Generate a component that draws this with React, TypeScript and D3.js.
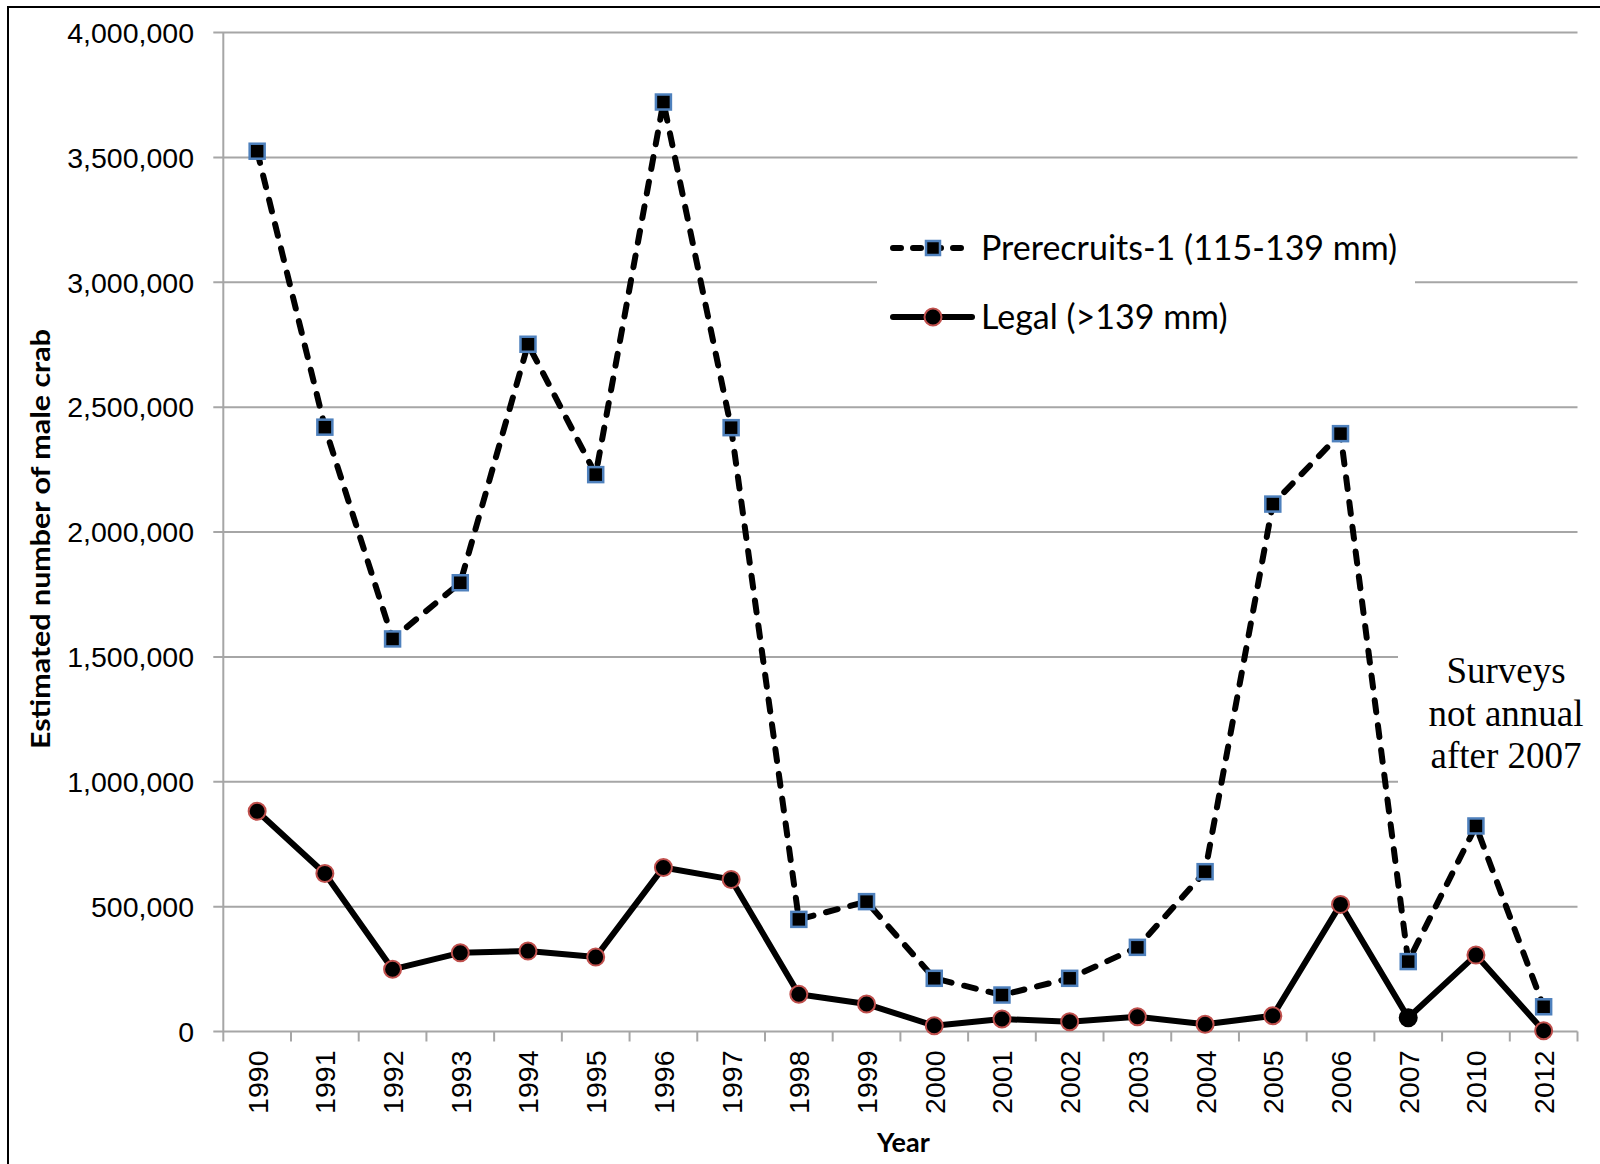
import React from "react";
import * as d3 from "d3";

const years = ["1990","1991","1992","1993","1994","1995","1996","1997","1998","1999","2000","2001","2002","2003","2004","2005","2006","2007","2010","2012"];
const prerecruits = [3525000,2420000,1572000,1797000,2752000,2230000,3722000,2418000,449000,520000,213000,146000,213000,337000,640000,2112000,2394000,280000,823000,99000];
const legal = [882000,633000,249000,315000,322000,298000,657000,609000,149000,110000,23000,50000,39000,59000,29000,63000,509000,55000,306000,3000];
const yTicks = [0,500000,1000000,1500000,2000000,2500000,3000000,3500000,4000000];
const seriesNames = ["Prerecruits-1 (115-139 mm)", "Legal (>139 mm)"];
const noteLines = ["Surveys", "not annual", "after 2007"];

export default function App() {
  const W = 1600, H = 1164;
  const left = 223.3, right = 1577.5, top = 32.6, bottom = 1031.5;
  const x = d3.scaleBand<string>().domain(years).range([left, right]);
  const y = d3.scaleLinear().domain([0, 4000000]).range([bottom, top]);
  const cx = (yr: string) => (x(yr) as number) + x.bandwidth() / 2;
  const fmt = d3.format(",");
  const line = d3.line<number>().x((_, i) => cx(years[i])).y((v) => y(v));
  const gridColor = "#a6a6a6";
  const boundaries = years.map((yr) => x(yr) as number).concat([right]);
  const dash = "12 13";
  const sq = 15;
  const tickFont = "'Liberation Sans', Arial, sans-serif";

  return (
    <svg width={W} height={H} style={{ position: "absolute", left: 0, top: 0, background: "#fff" }}>
      <rect x={0} y={0} width={W} height={H} fill="#fff" />
      <path d={`M8,${H} V7 H${W}`} fill="none" stroke="#000" strokeWidth={2} />
      {yTicks.map((t) => (
        <g key={t}>
          <line x1={left - 10} x2={right} y1={y(t)} y2={y(t)} stroke={gridColor} strokeWidth={2} />
          <text x={194} y={y(t)} dy="0.36em" textAnchor="end" fontFamily={tickFont} fontSize={28.5} fill="#000">{fmt(t)}</text>
        </g>
      ))}
      <line x1={left} x2={left} y1={top} y2={bottom} stroke={gridColor} strokeWidth={2} />
      {boundaries.map((b, i) => (
        <line key={i} x1={b} x2={b} y1={bottom} y2={bottom + 10} stroke={gridColor} strokeWidth={2} />
      ))}
      {years.map((yr) => (
        <text key={yr} transform={`translate(${cx(yr) + 10.5},${bottom + 19}) rotate(-90)`} textAnchor="end" fontFamily={tickFont} fontSize={28.5} fill="#000">{yr}</text>
      ))}
      <text x={(left + right) / 2 + 3} y={1152} textAnchor="middle" fontFamily="Lato, sans-serif" fontWeight="bold" fontSize={27} fill="#000">Year</text>
      <text transform={`translate(50,${(top + bottom) / 2 + 7}) rotate(-90)`} textAnchor="middle" fontFamily="Lato, sans-serif" fontWeight="bold" fontSize={27} textLength={420} lengthAdjust="spacingAndGlyphs" fill="#000">Estimated number of male crab</text>

      {/* legend box */}
      <rect x={877} y={212} width={538} height={135} fill="#fff" />
      {/* annotation box */}
      <rect x={1398} y={630} width={200} height={160} fill="#fff" />
      {noteLines.map((t, i) => (
        <text key={t} x={1506} y={683 + i * 42.5} textAnchor="middle" fontFamily="'Liberation Serif', 'Times New Roman', serif" fontSize={37} fill="#000">{t}</text>
      ))}

      <path d={line(prerecruits) || ""} fill="none" stroke="#000" strokeWidth={6} strokeDasharray={dash} strokeLinecap="round" strokeLinejoin="round" />
      <path d={line(legal) || ""} fill="none" stroke="#000" strokeWidth={6} strokeLinejoin="round" />
      {prerecruits.map((v, i) => (
        <rect key={i} x={cx(years[i]) - sq / 2} y={y(v) - sq / 2} width={sq} height={sq} fill="#000" stroke="#4f81bd" strokeWidth={2.5} />
      ))}
      {legal.map((v, i) => (
        <circle key={i} cx={cx(years[i])} cy={y(v)} r={8.5} fill="#000" stroke={years[i] === "2007" ? "#000" : "#c0504d"} strokeWidth={2} />
      ))}

      {/* legend */}
      <line x1={893} x2={962} y1={248} y2={248} stroke="#000" strokeWidth={6} strokeDasharray="8 12" strokeLinecap="round" />
      <rect x={933 - 7} y={248 - 7} width={14} height={14} fill="#000" stroke="#4f81bd" strokeWidth={2.5} />
      <text x={981} y={260} fontFamily="Lato, sans-serif" fontSize={34} fill="#000">{seriesNames[0]}</text>
      <line x1={893} x2={972} y1={317} y2={317} stroke="#000" strokeWidth={6} strokeLinecap="round" />
      <circle cx={933} cy={317} r={8.5} fill="#000" stroke="#c0504d" strokeWidth={2} />
      <text x={981} y={329} fontFamily="Lato, sans-serif" fontSize={34} fill="#000">{seriesNames[1]}</text>
    </svg>
  );
}
